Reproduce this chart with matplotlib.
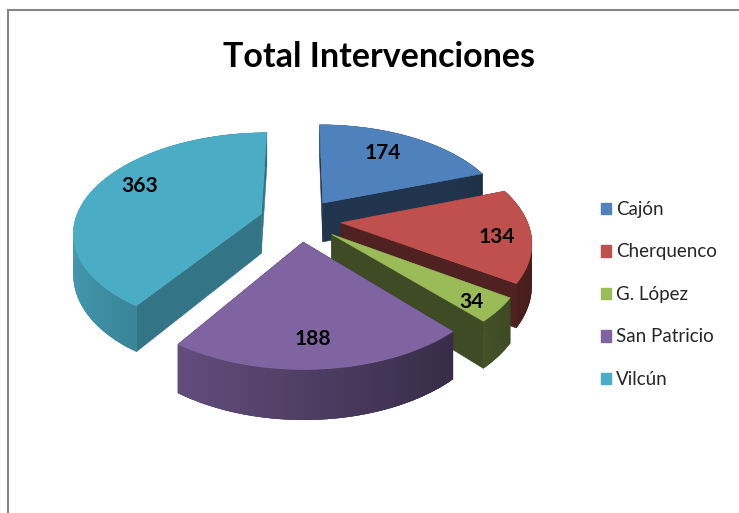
#!/usr/bin/env python3
"""
Total Intervenciones: exploded 3D pie drawn in pixel coordinates.
"""

import matplotlib
matplotlib.use("Agg")
import matplotlib.pyplot as plt
import numpy as np
from matplotlib.patches import Patch, Polygon

categories = ["Cajón", "Cherquenco", "G. López", "San Patricio", "Vilcún"]
values = [174, 134, 34, 188, 363]
title = "Total Intervenciones"

colors = ["#4f81bd", "#c0504d", "#9bbb59", "#8064a2", "#4bacc6"]
radial_shade = [0.41, 0.41, 0.40, 0.40, 0.68]
label_pos = [(383, 153), (497, 237), (471, 302), (313, 339), (140, 186)]

# projection of the pie plane onto the picture
CX, CY = 300, 220
A, B, K = 186, 97, 0.171
DEPTH = 40
EXPLODE = 0.22


def project(gx, gy, drop=0.0):
    d = 1 + K * gy
    return CX + A * gx / d, CY - B * gy / d + drop * DEPTH / d


def shade(color, f):
    rgb = np.array(matplotlib.colors.to_rgb(color))
    return tuple(rgb * f)


def draw_slice(ax, t0, t1, color, rad_f, z):
    mid = 0.5 * (t0 + t1)
    ox, oy = EXPLODE * np.sin(mid), EXPLODE * np.cos(mid)
    th = np.linspace(t0, t1, 120)
    gx, gy = ox + np.sin(th), oy + np.cos(th)
    top = np.column_stack(project(gx, gy))
    bot = np.column_stack(project(gx, gy, 1))
    apex_t = project(ox, oy)
    apex_b = project(ox, oy, 1)

    # radial walls
    for i in (0, -1):
        pts = [apex_t, top[i], bot[i], apex_b]
        ax.add_patch(Polygon(pts, fc=shade(color, rad_f), ec=shade(color, rad_f), lw=0.4, zorder=z))
    # outer wall, strips overlap the next one so no seams show
    for i in range(len(th) - 1):
        f = 0.62 - 0.27 * np.sin(0.5 * (th[i] + th[i + 1]))
        j = min(i + 3, len(th) - 1)
        pts = [top[i], top[j], bot[j], bot[i]]
        ax.add_patch(Polygon(pts, fc=shade(color, f), lw=0, zorder=z + 0.1 + i * 1e-4))
    # top face
    ax.add_patch(Polygon(np.vstack([[apex_t], top]), fc=color, ec=color, lw=0.4, zorder=z + 0.2))


def generate_chart():
    fig = plt.figure(figsize=(7.39, 5.13), dpi=100)
    ax = fig.add_axes([0, 0, 1, 1])
    ax.set_xlim(0, 739)
    ax.set_ylim(513, 0)
    ax.axis("off")

    # chart frame, only top and left are in the crop
    ax.plot([8, 8, 739], [513, 10, 10], color="#868686", lw=1.5, solid_joinstyle="miter")

    edges = np.concatenate([[0], np.cumsum(values)]) / np.sum(values) * 2 * np.pi
    for i in range(len(values)):
        draw_slice(ax, edges[i], edges[i + 1], colors[i], radial_shade[i], 2 + i)

    for v, (x, y) in zip(values, label_pos):
        ax.text(x, y, str(v), family="Lato", weight="bold", fontsize=15, ha="center",
                va="center", color="black", zorder=20)

    ax.text(379, 57, title, family="Lato", weight="bold", fontsize=24.5, ha="center",
            va="center", color="black", zorder=20)

    handles = [Patch(fc=c, ec=c) for c in colors]
    ax.legend(handles, categories, loc="upper left", bbox_to_anchor=(601, 201),
              bbox_transform=ax.transData, frameon=False, borderpad=0, borderaxespad=0,
              prop={"family": "Lato", "size": 13.5}, labelspacing=1.36, handlelength=0.55,
              handleheight=0.55, handletextpad=0.25, labelcolor="#262626")

    fig.savefig("out.png", dpi=100)
    plt.close(fig)


if __name__ == "__main__":
    generate_chart()
